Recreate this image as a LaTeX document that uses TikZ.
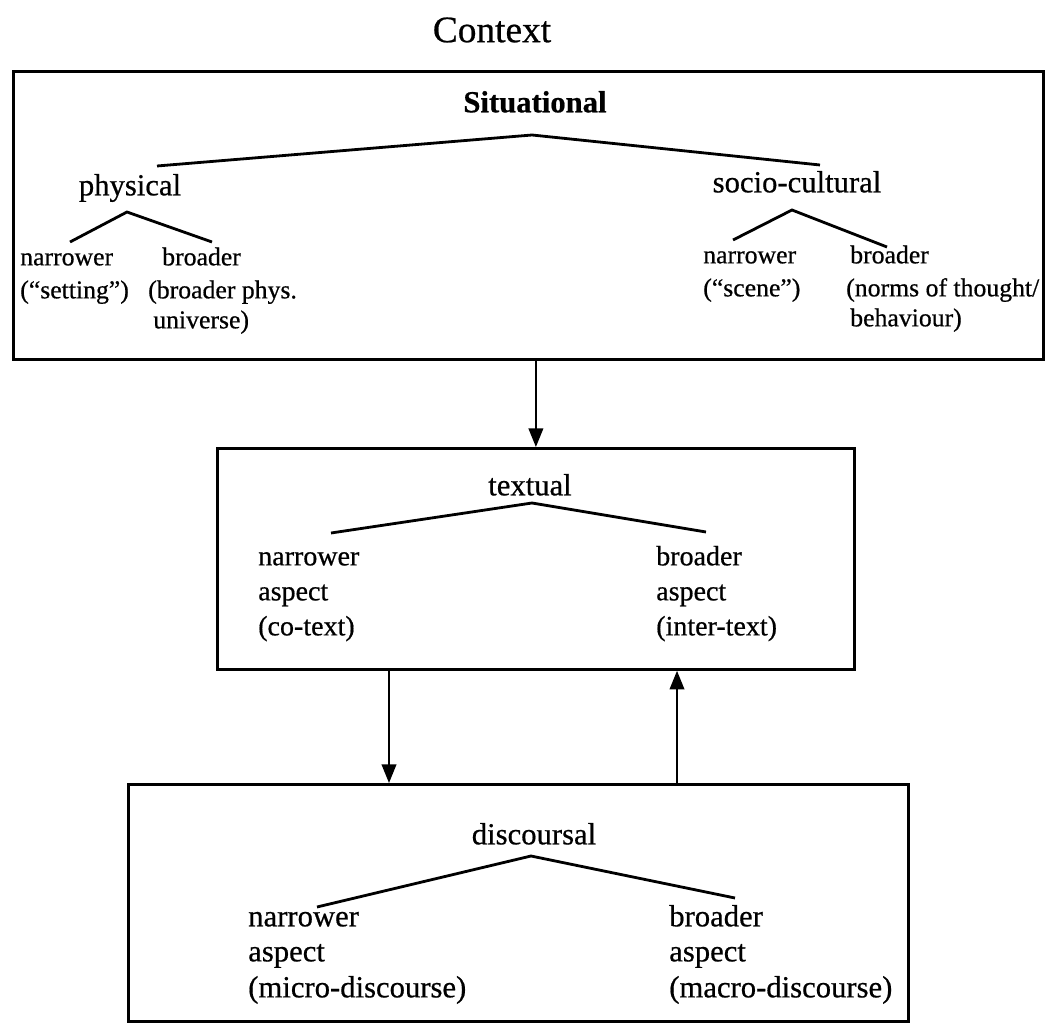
\documentclass[tikz,border=0pt]{standalone}
\usepackage{fontspec}
\setmainfont{Liberation Serif}[FakeBold=0.6]
\usetikzlibrary{arrows.meta}
\begin{document}
\begin{tikzpicture}[x=0.75pt,y=-0.75pt,
  box/.style={draw, line width=2.1pt, inner sep=0pt, anchor=north west},
  branch/.style={line width=2.1pt},
  flow/.style={line width=1.4pt, -{Triangle[width=11pt,length=14pt]}},
  title/.style={font=\fontsize{28}{32}\selectfont, inner sep=0pt},
  head/.style={font=\fontsize{23}{26}\selectfont, inner sep=0pt, text height=17pt, text depth=6pt},
  smallA/.style={anchor=west, font=\fontsize{19.3}{23}\selectfont, inner sep=0pt, text height=14.5pt, text depth=5pt},
  smallB/.style={anchor=west, font=\fontsize{21}{25}\selectfont, inner sep=0pt, text height=16pt, text depth=5pt},
  smallC/.style={anchor=west, font=\fontsize{23}{27}\selectfont, inner sep=0pt, text height=17pt, text depth=6pt}
]
\useasboundingbox (0,0) rectangle (1045,1023);

% title
\node[title] (ctx) at (492,30) {Context};

% boxes
\node[box, minimum width=772.5pt, minimum height=216pt] (top) at (12,70) {};
\node[box, minimum width=477.75pt, minimum height=165.75pt] (mid) at (216,447) {};
\node[box, minimum width=585pt, minimum height=177.75pt] (bot) at (127,783) {};

% ---- situational box ----
\node[head, font=\fontsize{23}{26}\selectfont\bfseries] (sit) at (535,105) {Situational};
\coordinate (sitA) at (532,135);
\coordinate (sitL) at (157,166);
\coordinate (sitR) at (820,165);
\draw[branch] (sitL) -- (sitA) -- (sitR);

\node[head] (phys) at (130,188) {physical};
\coordinate (physA) at (127,212);
\coordinate (physL) at (70,242);
\coordinate (physR) at (212,242);
\draw[branch] (physL) -- (physA) -- (physR);

\node[smallA] (pn1) at (20,259) {narrower};
\node[smallA] (pn2) at (20,292) {(“setting”)};
\node[smallA] (pb1) at (162,259) {broader};
\node[smallA] (pb2) at (148,292) {(broader phys.};
\node[smallA] (pb3) at (153,322) {universe)};

\node[head] (soc) at (797,185) {socio-cultural};
\coordinate (socA) at (792,210);
\coordinate (socL) at (733,240);
\coordinate (socR) at (887,247);
\draw[branch] (socL) -- (socA) -- (socR);

\node[smallA] (sn1) at (703,257) {narrower};
\node[smallA] (sn2) at (703,290) {(“scene”)};
\node[smallA] (sb1) at (850,257) {broader};
\node[smallA] (sb2) at (846,290) {(norms of thought/};
\node[smallA] (sb3) at (850,320) {behaviour)};

% ---- textual box ----
\node[head] (txt) at (530,488) {textual};
\coordinate (txtA) at (532,503);
\coordinate (txtL) at (331,533);
\coordinate (txtR) at (706,532);
\draw[branch] (txtL) -- (txtA) -- (txtR);

\node[smallB] (tn1) at (258,558) {narrower};
\node[smallB] (tn2) at (258,593) {aspect};
\node[smallB] (tn3) at (258,628) {(co-text)};
\node[smallB] (tb1) at (656,558) {broader};
\node[smallB] (tb2) at (656,593) {aspect};
\node[smallB] (tb3) at (656,628) {(inter-text)};

% ---- discoursal box ----
\node[head] (dis) at (534,837) {discoursal};
\coordinate (disA) at (531,856);
\coordinate (disL) at (317,907);
\coordinate (disR) at (735,898);
\draw[branch] (disL) -- (disA) -- (disR);

\node[smallC] (dn1) at (248,919) {narrower};
\node[smallC] (dn2) at (248,954) {aspect};
\node[smallC] (dn3) at (248,990) {(micro-discourse)};
\node[smallC] (db1) at (669,919) {broader};
\node[smallC] (db2) at (669,954) {aspect};
\node[smallC] (db3) at (669,990) {(macro-discourse)};

% ---- arrows ----
\coordinate (downX) at (389,0);
\coordinate (upX) at (677,0);
\draw[flow] (mid.north |- top.south) -- (mid.north);
\draw[flow] (mid.south -| downX) -- (bot.north -| downX);
\draw[flow] (bot.north -| upX) -- (mid.south -| upX);
\end{tikzpicture}
\end{document}
